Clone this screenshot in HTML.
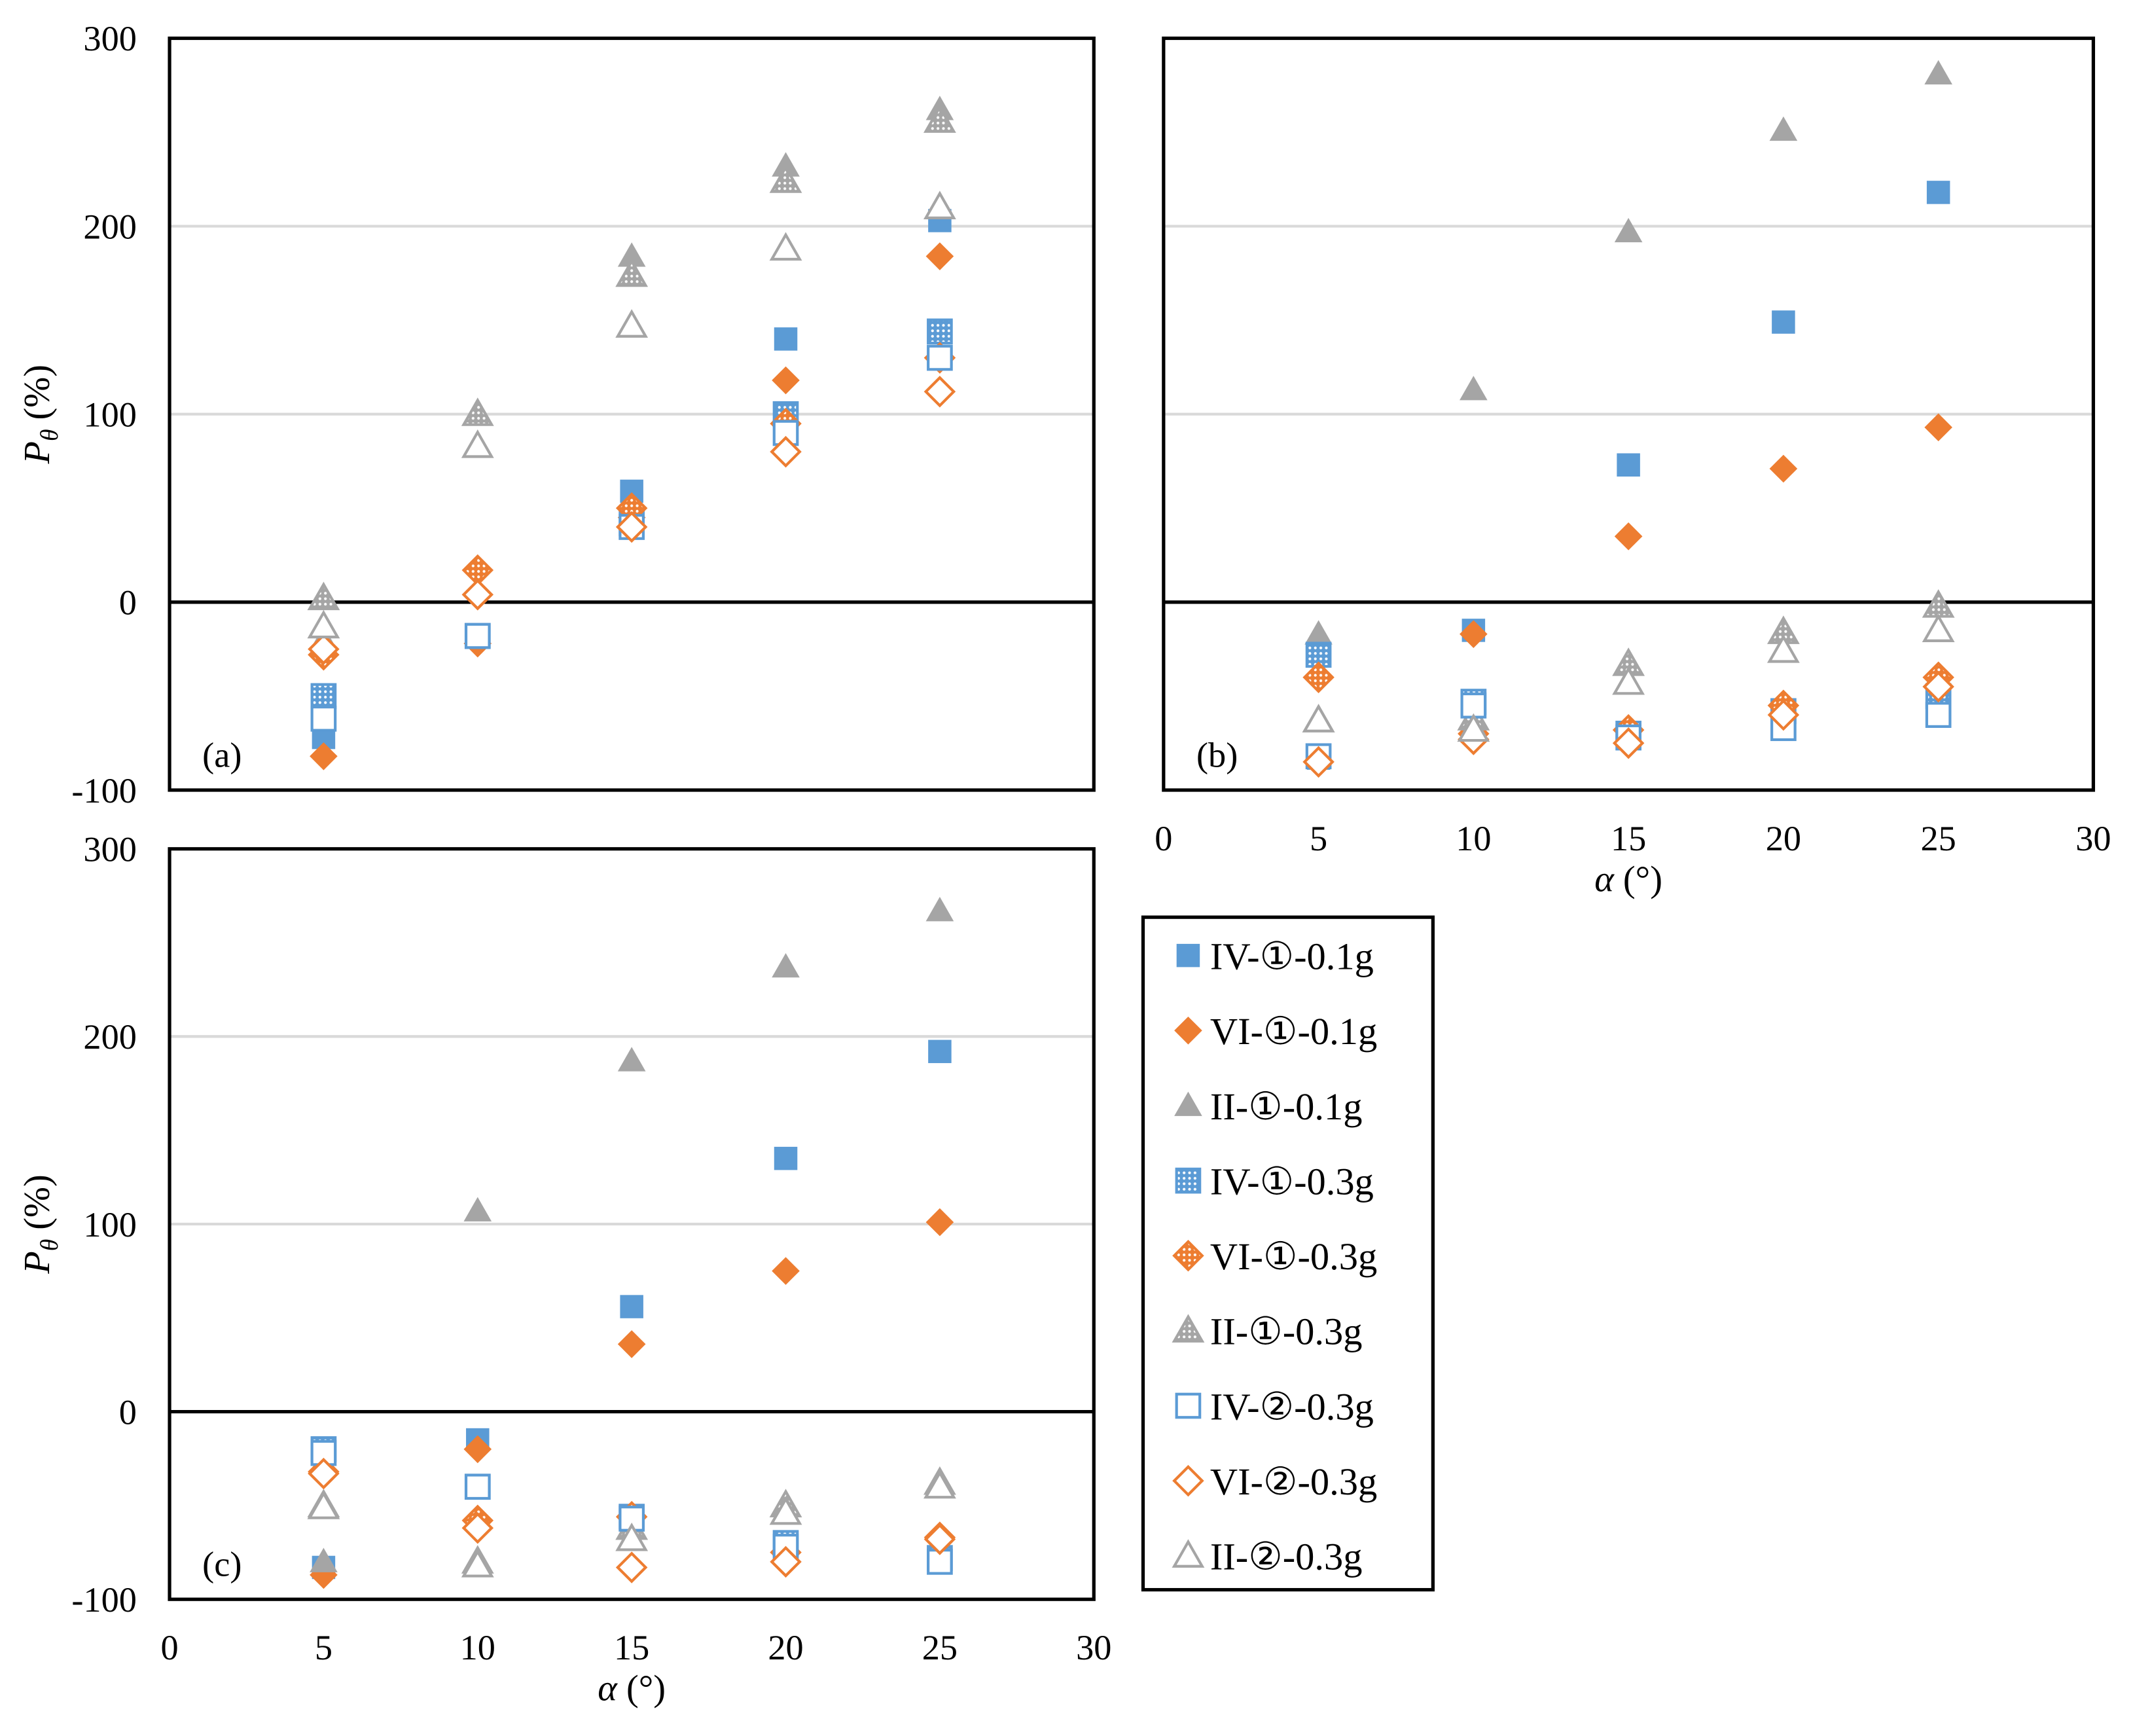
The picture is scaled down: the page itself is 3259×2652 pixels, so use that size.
<!DOCTYPE html>
<html><head><meta charset="utf-8"><style>
html,body{margin:0;padding:0;background:#fff;}
svg{display:block;font-family:"Liberation Serif",serif;}
</style></head>
<body>
<svg id="fig" width="3259" height="2652" viewBox="0 0 1560 1270" preserveAspectRatio="none" xmlns="http://www.w3.org/2000/svg">
<defs>
<pattern id="hb" width="4" height="4" patternUnits="userSpaceOnUse"><rect width="4" height="4" fill="#5B9BD5"/><circle cx="2" cy="2" r="1" fill="#fff"/></pattern>
<pattern id="ho" width="4" height="4" patternUnits="userSpaceOnUse"><rect width="4" height="4" fill="#ED7D31"/><circle cx="2" cy="2" r="1" fill="#fff"/></pattern>
<pattern id="hg" width="4" height="4" patternUnits="userSpaceOnUse"><rect width="4" height="4" fill="#A5A5A5"/><circle cx="2" cy="2" r="1" fill="#fff"/></pattern>
</defs>
</svg>
<script>
const xCats = [5, 10, 15, 20, 25];
const xTicks = [0, 5, 10, 15, 20, 25, 30];
const yTicks = [-100, 0, 100, 200, 300];
const seriesNames = ["IV-①-0.1g","VI-①-0.1g","II-①-0.1g","IV-①-0.3g","VI-①-0.3g","II-①-0.3g","IV-②-0.3g","VI-②-0.3g","II-②-0.3g"];
const panelA = [
  [-72, -18, 59, 140, 203],
  [-82, -22, 45, 118, 184],
  [-20, 100, 184, 232, 262],
  [-50, -18, 42, 100, 144],
  [-28, 17, 50, 95, 130],
  [2, 100, 174, 224, 256],
  [-62, -18, 40, 90, 130],
  [-25, 4, 40, 80, 112],
  [-13, 83, 147, 188, 210]
];
const panelB = [
  [-83, -15, 73, 149, 218],
  [-85, -17, 35, 71, 93],
  [-17, 113, 197, 251, 281],
  [-28, -53, -70, -58, -50],
  [-40, -70, -68, -55, -40],
  [-63, -62, -33, -16, -2],
  [-82, -55, -72, -67, -60],
  [-85, -73, -75, -60, -45],
  [-63, -68, -43, -26, -15]
];
const panelC = [
  [-83, -15, 56, 135, 192],
  [-87, -20, 36, 75, 101],
  [-80, 107, 187, 237, 267],
  [-20, -40, -56, -70, -78],
  [-32, -58, -56, -75, -67],
  [-50, -80, -62, -50, -38],
  [-22, -40, -57, -72, -80],
  [-33, -62, -83, -80, -68],
  [-51, -82, -68, -54, -40]
];
const styles = [
  {shape:"sq",fill:"#5B9BD5",stroke:"none"},
  {shape:"di",fill:"#ED7D31",stroke:"none"},
  {shape:"tr",fill:"#A5A5A5",stroke:"none"},
  {shape:"sq",fill:"url(#hb)",stroke:"#5B9BD5"},
  {shape:"di",fill:"url(#ho)",stroke:"#ED7D31"},
  {shape:"tr",fill:"url(#hg)",stroke:"#A5A5A5"},
  {shape:"sq",fill:"#fff",stroke:"#5B9BD5"},
  {shape:"di",fill:"#fff",stroke:"#ED7D31"},
  {shape:"tr",fill:"#fff",stroke:"#A5A5A5"}
];
const NS="http://www.w3.org/2000/svg";
const svg=document.getElementById('fig');
function mk(tag,attrs,parent){const e=document.createElementNS(NS,tag);for(const k in attrs)e.setAttribute(k,attrs[k]);(parent||svg).appendChild(e);return e;}
function marker(g,st,cx,cy,s){
  let e;
  if(st.shape==="sq") e=mk('rect',{x:cx-s/2,y:cy-s/2,width:s,height:s},g);
  else if(st.shape==="di") e=mk('polygon',{points:`${cx},${cy-s*0.6} ${cx+s*0.6},${cy} ${cx},${cy+s*0.6} ${cx-s*0.6},${cy}`},g);
  else e=mk('polygon',{points:`${cx},${cy-s*0.6} ${cx+s*0.6},${cy+s*0.45} ${cx-s*0.6},${cy+s*0.45}`},g);
  e.setAttribute('fill',st.fill);
  e.setAttribute('stroke',st.stroke==="none"?"none":st.stroke);
  e.setAttribute('stroke-width',2);
  return e;
}
function panel(name,L,T,R,B,data,label,showY,showX){
  const g=mk('g',{});
  
  
  const xs=v=>L+(v-0)/30*(R-L);
  const ys=v=>B-(v+100)/400*(B-T);
  [100,200].forEach(v=>{const l=mk('line',{x1:L,x2:R,y1:ys(v),y2:ys(v),stroke:"#d9d9d9","stroke-width":2},g);});
  const z=mk('line',{x1:L,x2:R,y1:ys(0),y2:ys(0),stroke:"#000","stroke-width":2.5},g);
  
  
  data.forEach((ser,i)=>{
    const sg=mk('g',{},g);
    
    
    ser.forEach((v,j)=>{const m=marker(sg,styles[i],xs(xCats[j]),ys(v),17);
      
      });
  });
  const box=mk('rect',{x:L,y:T,width:R-L,height:B-T,fill:"none",stroke:"#000","stroke-width":2.5},g);
  
  
  const lt=mk('text',{x:L+24,y:B-17,"font-size":26},g);lt.textContent=label;
  
  
  if(showY){
    yTicks.forEach(v=>{const t=mk('text',{x:L-24,y:ys(v)+9,"font-size":26,"text-anchor":"end"},g);t.textContent=v;
      
      });
    const cy=(T+B)/2;
    const yt=mk('text',{transform:`translate(36,${cy}) rotate(-90)`,"font-size":27,"text-anchor":"middle"},g);
    yt.innerHTML='<tspan font-style="italic">P</tspan><tspan font-style="italic" font-size="18" dy="6">θ</tspan><tspan dy="-6"> (%)</tspan>';
    
    
  }
  if(showX){
    xTicks.forEach(v=>{const t=mk('text',{x:xs(v),y:B+44,"font-size":26,"text-anchor":"middle"},g);t.textContent=v;
      
      });
    const xt=mk('text',{x:(L+R)/2,y:B+74,"font-size":27,"text-anchor":"middle"},g);
    xt.innerHTML='<tspan font-style="italic">α</tspan> (°)';
    
    
  }
}
panel('panel-a',124,28,800,578,panelA,'(a)',true,false);
panel('panel-b',851,28,1531,578,panelB,'(b)',false,true);
panel('panel-c',124,621,800,1170,panelC,'(c)',true,true);
const lg=mk('g',{});


const lb=mk('rect',{x:836,y:671,width:212,height:492,fill:"#fff",stroke:"#000","stroke-width":2.5},lg);


seriesNames.forEach((n,i)=>{
  const y=699+i*54.9;
  const e=mk('g',{},lg);
  
  
  marker(e,styles[i],869,y,17);
  const t=mk('text',{x:885,y:y+10,"font-size":28},e);
  t.textContent=n;
});
</script>
</body></html>
